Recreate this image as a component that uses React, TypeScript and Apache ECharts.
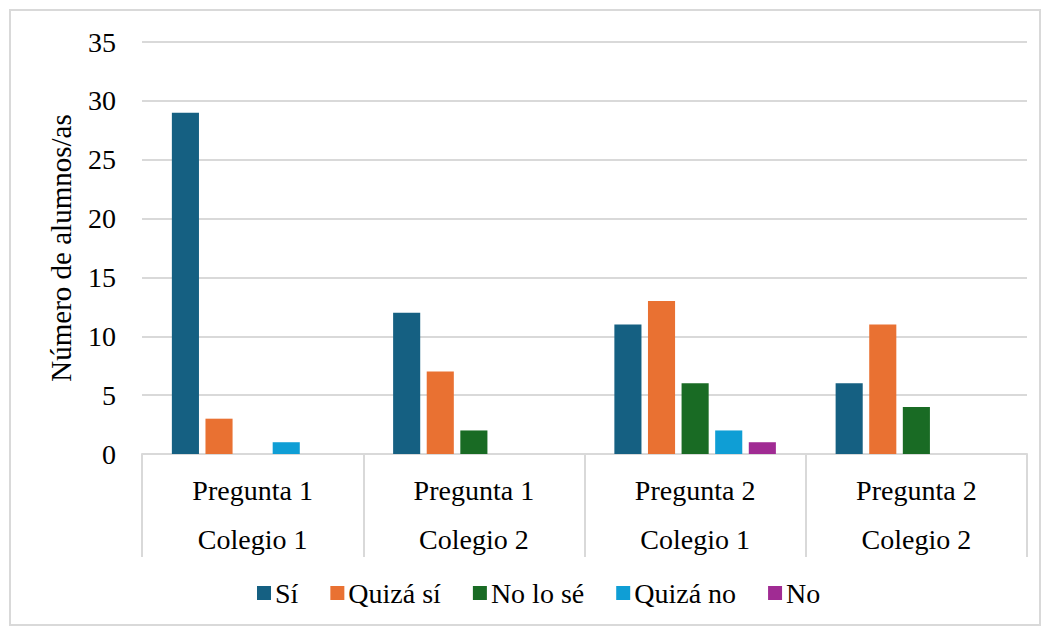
import React, { useEffect, useRef } from "react";
import * as echarts from "echarts";

const categories = ["Pregunta 1\nColegio 1", "Pregunta 1\nColegio 2", "Pregunta 2\nColegio 1", "Pregunta 2\nColegio 2"];
const seriesNames = ["Sí", "Quizá sí", "No lo sé", "Quizá no", "No"];
const si = [29, 12, 11, 6];
const quizaSi = [3, 7, 13, 11];
const noLoSe = [0, 2, 6, 4];
const quizaNo = [1, 0, 2, 0];
const no = [0, 0, 1, 0];
const colors = ["#156082", "#E97132", "#196B24", "#0F9ED5", "#A02B93"];
const yTicks = { min: 0, max: 35, interval: 5 };

const FONT = "Liberation Serif";

export default function App() {
  const ref = useRef<HTMLDivElement>(null);
  useEffect(() => {
    if (!ref.current) return;
    const chart = echarts.init(ref.current, undefined, { renderer: "svg" });
    const values = [si, quizaSi, noLoSe, quizaNo, no];
    chart.setOption({
      animation: false,
      textStyle: { fontFamily: FONT, color: "#000" },
      graphic: [
        {
          type: "rect",
          shape: { x: 10, y: 10, width: 1030, height: 615 },
          style: { fill: "none", stroke: "#d9d9d9", lineWidth: 2 },
          silent: true,
        },
      ],
      grid: { left: 142, right: 22, top: 42, bottom: 180 },
      legend: {
        bottom: 22,
        left: 252,
        itemWidth: 14,
        itemHeight: 14,
        itemGap: 32,
        icon: "rect",
        textStyle: { fontFamily: FONT, fontSize: 28, color: "#000", padding: [0, 0, 0, -1] },
        data: seriesNames,
      },
      xAxis: {
        type: "category",
        data: categories,
        axisLine: { lineStyle: { color: "#d9d9d9", width: 2 } },
        axisTick: { show: true, alignWithLabel: false, interval: 0, length: 103, lineStyle: { color: "#d9d9d9", width: 2 } },
        axisLabel: { fontFamily: FONT, fontSize: 28, color: "#000", lineHeight: 49, margin: 12, interval: 0 },
      },
      yAxis: {
        type: "value",
        min: yTicks.min,
        max: yTicks.max,
        interval: yTicks.interval,
        name: "Número de alumnos/as",
        nameLocation: "middle",
        nameGap: 67,
        nameTextStyle: { fontFamily: FONT, fontSize: 29, color: "#000" },
        axisLine: { show: false },
        axisTick: { show: false },
        axisLabel: { fontFamily: FONT, fontSize: 28, color: "#000", margin: 26 },
        splitLine: { lineStyle: { color: "#d9d9d9", width: 2 } },
      },
      series: seriesNames.map((name, i) => ({
        name,
        type: "bar",
        data: values[i],
        barGap: "24%",
        barCategoryGap: "27%",
        itemStyle: { color: colors[i] },
      })),
    });
    return () => chart.dispose();
  }, []);
  return <div ref={ref} style={{ width: 1049, height: 634, position: "absolute", left: 0, top: 0 }} />;
}
